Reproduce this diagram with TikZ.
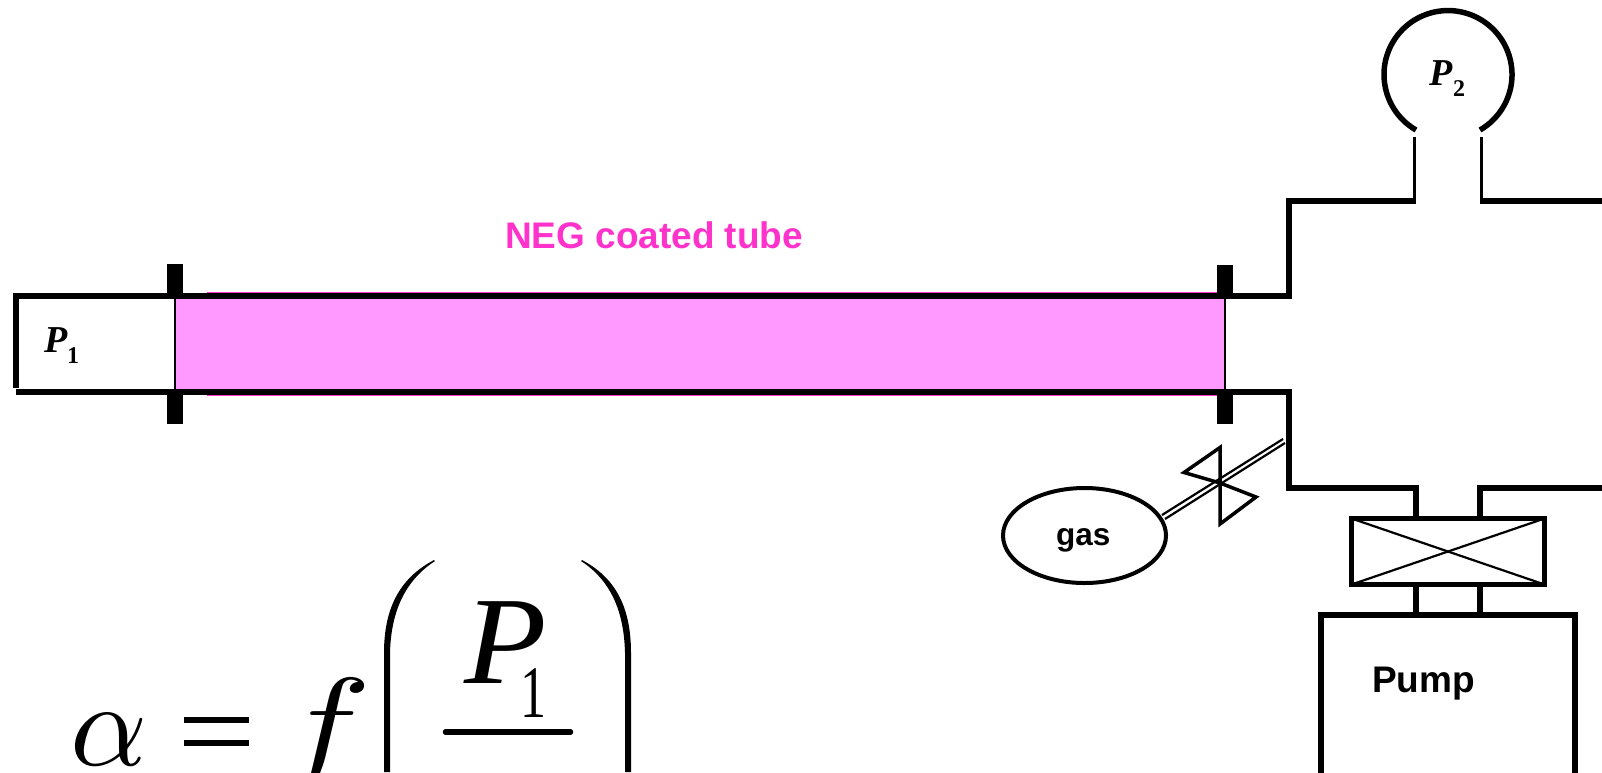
\documentclass[tikz,border=0pt]{standalone}
\usepackage{fontspec}
\usepackage{graphicx}
\setmainfont{Liberation Serif}
\newfontfamily\arialf{Liberation Sans}
\usetikzlibrary{shapes.geometric}
\definecolor{tubefill}{HTML}{FF99FF}
\definecolor{tubeedge}{HTML}{FF33CC}
\tikzset{
  pipe/.style={line width=6pt,line cap=butt,line join=miter},
  thinpipe/.style={line width=3pt},
  label/.style={inner sep=0pt,outer sep=0pt,anchor=base west},
  flange/.style={fill=black,draw=none},
  valveedge/.style={line width=3.5pt,line join=miter},
  thinline/.style={line width=2.2pt},
  sanslabel/.style={label,font=\arialf\bfseries},
}
\begin{document}
\begin{tikzpicture}[x=1pt,y=-1pt]
\useasboundingbox (0,0) rectangle (1602,772);
\clip (0,0) rectangle (1602,772);
\fill[white] (0,0) rectangle (1602,772);
% tube
\fill[tubeedge] (207,292) rectangle (1222,396);
\fill[tubefill] (175,296) rectangle (1225,392);
% pipes
\coordinate (inTL) at (16,296);
\coordinate (inBL) at (16,392);
\draw[pipe] (16,293) -- (16,388);
\draw[pipe] (inTL) -- (1288.5,296) -- (1288.5,201) -- (1416,201);
\draw[pipe] (inBL) -- (1288.5,392) -- (1288.5,487.5) -- (1416,487.5) -- (1416,518);
\draw[pipe] (1602,201) -- (1480,201);
\draw[pipe] (1602,487.5) -- (1480,487.5) -- (1480,518);
% thin tube ends
\draw[line width=1.5pt] (175,296) -- (175,392);
\draw[line width=1.5pt] (1225,296) -- (1225,392);
% flanges
\fill[flange] (167,264) rectangle (183,298);
\fill[flange] (167,390) rectangle (183,424);
\fill[flange] (1217,265) rectangle (1233,298);
\fill[flange] (1217,390) rectangle (1233,424);
% gauge
\draw[thinpipe] (1414.5,137) -- (1414.5,201);
\draw[thinpipe] (1481.5,137) -- (1481.5,201);
\draw[line width=5.5pt] (1416,130) arc[start angle=120,end angle=420,radius=64];
\node[label,font=\itshape\bfseries\fontsize{38}{38}\selectfont] (ptwo) at (1429,85) {P};
\node[label,font=\bfseries\fontsize{24}{24}\selectfont] (ptwosub) at (1453,96) {2};
\node[label,font=\itshape\bfseries\fontsize{38}{38}\selectfont] (pone) at (44,352) {P};
\node[label,font=\bfseries\fontsize{24}{24}\selectfont] (ponesub) at (67,363) {1};
% label
\node[sanslabel,text=tubeedge,font=\arialf\bfseries\fontsize{37}{37}\selectfont] (neg) at (505,248) {NEG coated tube};
% gas
\node[draw,ellipse,line width=4pt,minimum width=163pt,minimum height=95pt,inner sep=0pt] (gas) at (1084.5,535.5) {};
\node[sanslabel,font=\arialf\bfseries\fontsize{31.5}{31.5}\selectfont] (gastext) at (1056,545) {gas};
% valve
\coordinate (feedAa) at (1162,515);
\coordinate (feedAb) at (1283,439);
\coordinate (feedBa) at (1165,519);
\coordinate (feedBb) at (1285,443);
\draw[valveedge] (1220,483) -- (1184,472.5) -- (1220,447.5) -- (1220,524) -- (1256,497) -- cycle;
\draw[thinline] (feedAa) -- (feedAb);
\draw[thinline] (feedBa) -- (feedBb);
% pump valve
\node[draw,line width=5.5pt,minimum width=193pt,minimum height=66pt,inner sep=0pt,outer sep=0pt] (pv) at (1448,551.5) {};
\draw[thinline] (pv.north west) -- (pv.south east);
\draw[thinline] (pv.south west) -- (pv.north east);
\draw[pipe] (1416,585) -- (1416,615);
\draw[pipe] (1480,585) -- (1480,615);
% pump
\draw[line width=6pt,line join=miter] (1321,775) -- (1321,615) -- (1575,615) -- (1575,775);
\node[sanslabel,font=\arialf\bfseries\fontsize{37}{37}\selectfont] (pump) at (1372,692) {Pump};
% equation
\node[label] (alpha) at (70,765) {\scalebox{12}{$\alpha$}};
\fill (184,717) rectangle (248.5,723);
\fill (184,740) rectangle (248.5,746);
\node[label] (f) at (278,765) {\scalebox{15.6}[12.5]{$f$}};
\fill (434,560) .. controls (402,577) and (384,605) .. (384,653) -- (384,772) -- (390,772) -- (390,653) .. controls (391,610) and (406,580) .. (435,561) -- cycle;
\fill (582,560) .. controls (614,577) and (631,605) .. (631,653) -- (631,772) -- (625,772) -- (625,653) .. controls (624,610) and (610,580) .. (581,561) -- cycle;
\node[label,font=\itshape\fontsize{125}{125}\selectfont] (Pnum) at (464,683) {\scalebox{1.08}[1]{P}};
\node[label,font=\fontsize{74}{74}\selectfont] (Psub) at (520,717) {\scalebox{0.7}[1]{1}};
\draw[line width=5.5pt,line cap=round] (445.5,732) -- (570.5,732);
\end{tikzpicture}
\end{document}
